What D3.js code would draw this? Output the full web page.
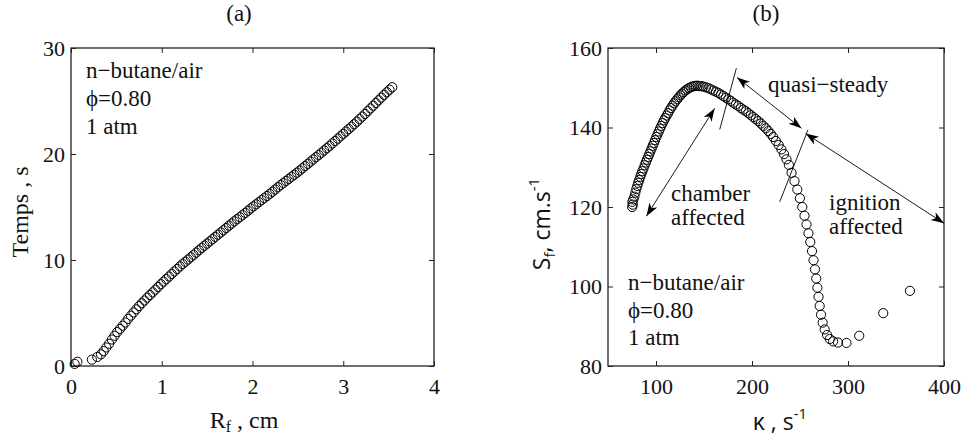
<!DOCTYPE html>
<html><head><meta charset="utf-8">
<script src="https://cdn.jsdelivr.net/npm/d3@7/dist/d3.min.js"></script>
<style>
html,body{margin:0;padding:0;background:#fff;}
svg{display:block;}
.serif{font-family:"Liberation Serif","Times New Roman",serif;}
.sans{font-family:"Open Sans","DejaVu Sans",sans-serif;}
</style></head>
<body>
<svg id="chart" width="963" height="439"></svg>
<script>
// ---------- Panel (a): flame radius vs time ----------
const radius = [0.04,0.07,0.23,0.29,
0.33,0.36,0.39,0.42,0.45,0.48,0.51,0.54,0.57,0.60,0.63,0.66,0.69,0.72,0.75,0.78,0.81,0.84,0.87,0.90,
0.93,0.96,0.99,1.02,1.05,1.08,1.11,1.14,1.17,1.20,1.23,1.26,1.29,1.32,1.35,1.38,1.41,1.44,1.47,1.50,
1.53,1.56,1.59,1.62,1.65,1.68,1.71,1.74,1.77,1.80,1.83,1.86,1.89,1.92,1.95,1.98,2.01,2.04,2.07,2.10,
2.13,2.16,2.19,2.22,2.25,2.28,2.31,2.34,2.37,2.40,2.43,2.46,2.49,2.52,2.55,2.58,2.61,2.64,2.67,2.70,
2.73,2.76,2.79,2.82,2.85,2.88,2.91,2.94,2.97,3.00,3.03,3.06,3.09,3.12,3.15,3.18,3.21,3.24,3.27,3.30,
3.33,3.36,3.39,3.42,3.45,3.48,3.51,3.54];
const time = [0.20,0.40,0.60,0.85,
1.10,1.40,1.75,2.10,2.50,2.85,3.20,3.50,3.80,4.10,4.45,4.75,5.05,5.35,5.65,5.92,6.18,6.45,6.70,6.95,
7.20,7.45,7.72,7.96,8.20,8.44,8.68,8.92,9.16,9.40,9.62,9.83,10.04,10.26,10.48,10.70,10.92,11.14,11.35,11.55,
11.76,11.97,12.18,12.39,12.60,12.81,13.02,13.23,13.44,13.65,13.85,14.04,14.24,14.44,14.65,14.86,15.06,15.25,15.45,15.65,
15.84,16.04,16.24,16.44,16.65,16.86,17.07,17.26,17.46,17.65,17.85,18.04,18.24,18.44,18.65,18.86,19.07,19.28,19.49,19.70,
19.91,20.12,20.33,20.55,20.77,21.00,21.22,21.45,21.67,21.90,22.12,22.35,22.58,22.81,23.05,23.29,23.53,23.78,24.04,24.30,
24.55,24.81,25.07,25.32,25.58,25.83,26.07,26.30];
const ticksA_x = [0,1,2,3,4];
const ticksA_y = [0,10,20,30];

// ---------- Panel (b): flame speed vs stretch ----------
const kappa = [75.2,75.8,75.4,76.4,77.5,78.5,79.5,80.5,81.5,82.5,83.6,84.7,85.8,87.0,88.2,89.4,90.6,91.8,93.0,94.2,
95.4,96.6,97.8,99.0,100.3,101.6,102.9,104.2,105.5,106.9,108.3,109.7,111.1,112.6,114.1,115.6,117.2,118.8,120.4,122.0,
123.7,125.4,127.1,128.8,130.6,132.4,134.2,136.0,137.8,139.7,141.6,143.5,145.4,147.4,
149.4,152.0,154.6,157.2,159.8,162.4,165.0,167.6,170.2,172.8,175.4,178.0,180.6,183.2,185.8,188.4,191.0,193.6,196.2,198.8,
201.4,204.0,206.6,209.2,211.8,214.4,217.0,219.5,222.0,224.9,227.8,230.6,233.3,235.9,238.4,
241.2,244.3,247.2,249.9,252.4,254.7,256.8,258.8,260.7,262.5,264.1,265.6,266.9,268.1,269.3,270.5,271.9,273.6,275.7,278.2,
281.0,284.5,289.6,298.4,311.7,336.7,364.5];
const speed = [120.0,120.6,121.3,121.9,122.6,123.6,124.5,125.3,126.1,126.8,127.6,128.3,129.0,129.7,130.5,131.2,131.9,132.6,133.3,134.0,
134.7,135.4,136.1,136.8,137.6,138.3,139.0,139.7,140.4,141.1,141.8,142.4,143.0,143.6,144.3,144.9,145.5,146.1,146.6,147.1,
147.6,148.1,148.5,148.9,149.3,149.6,149.9,150.1,150.3,150.4,150.5,150.5,150.4,150.4,
150.3,150.1,149.9,149.6,149.3,149.0,148.7,148.3,147.9,147.5,147.1,146.7,146.2,145.8,145.4,144.9,144.5,144.1,143.6,143.1,
142.6,142.1,141.6,141.0,140.4,139.8,139.1,138.4,137.6,136.6,135.6,134.5,133.3,132.0,130.6,
128.6,126.5,124.4,122.2,120.0,117.8,115.6,113.4,111.2,108.9,106.6,104.3,102.0,99.7,97.4,95.1,92.9,90.9,89.2,87.8,
86.8,86.2,85.9,85.8,87.6,93.3,98.9];
const ticksB_x = [100,200,300,400];
const ticksB_y = [80,100,120,140,160];

// annotation geometry in data units of panel (b)
const separators = [[[166.4,139.5],[183.7,154.9]], [[228.9,121.3],[258.3,139.4]]];
const doubleArrows = [[[184.4,152.6],[251.5,139.8]], [[255.9,138.5],[400,115.9]], [[161.1,144.8],[90,117.7]]];

const svg = d3.select("#chart");
svg.append("rect").attr("width",963).attr("height",439).attr("fill","#fff");

const defs = svg.append("defs");
defs.append("marker").attr("id","ah").attr("viewBox","-14 -6 15 12")
  .attr("refX",0).attr("refY",0).attr("markerWidth",15).attr("markerHeight",12)
  .attr("markerUnits","userSpaceOnUse").attr("orient","auto-start-reverse")
  .append("path").attr("d","M0,0 L-13,-4.6 L-9.5,0 L-13,4.6 Z").attr("fill","#000");

function panel(x, y, tx, ty) {
  const g = svg.append("g");
  const [x0,x1] = x.range(), [y0,y1] = y.range();
  const mk = (ax, labels, pad) => ax.tickSizeInner(-5).tickSizeOuter(0).tickPadding(pad)
      .tickFormat(labels ? d3.format("d") : "");
  g.append("g").attr("transform",`translate(0,${y0})`).call(mk(d3.axisBottom(x).tickValues(tx), true, 12));
  g.append("g").attr("transform",`translate(0,${y1})`).call(mk(d3.axisTop(x).tickValues(tx), false, 0));
  g.append("g").attr("transform",`translate(${x0},0)`).call(mk(d3.axisLeft(y).tickValues(ty), true, 6));
  g.append("g").attr("transform",`translate(${x1},0)`).call(mk(d3.axisRight(y).tickValues(ty), false, 0));
  g.selectAll(".domain").remove();
  g.selectAll(".tick line").attr("stroke","#222").attr("stroke-width",1);
  g.selectAll(".tick text").attr("class","serif").attr("font-size",22).attr("fill","#111");
  g.append("rect").attr("x",x0).attr("y",y1).attr("width",x1-x0).attr("height",y0-y1)
    .attr("fill","none").attr("stroke","#222").attr("stroke-width",1.3);
  return g;
}

// ---------- draw panel (a) ----------
const xA = d3.scaleLinear().domain([0,4]).range([71,434]);
const yA = d3.scaleLinear().domain([0,30]).range([366,48]);
panel(xA, yA, ticksA_x, ticksA_y);
svg.append("g").selectAll("circle").data(radius).join("circle")
  .attr("cx",(d)=>xA(d)).attr("cy",(d,i)=>yA(time[i])).attr("r",4.6)
  .attr("fill","none").attr("stroke","#000").attr("stroke-width",1);

// ---------- draw panel (b) ----------
const xB = d3.scaleLinear().domain([50,400]).range([608,944]);
const yB = d3.scaleLinear().domain([80,160]).range([366,48]);
panel(xB, yB, ticksB_x, ticksB_y);
svg.append("g").selectAll("circle").data(kappa).join("circle")
  .attr("cx",(d)=>xB(d)).attr("cy",(d,i)=>yB(speed[i])).attr("r",4.6)
  .attr("fill","none").attr("stroke","#000").attr("stroke-width",1);

const ann = svg.append("g").attr("stroke","#000").attr("stroke-width",0.9).attr("fill","none");
separators.forEach(s => ann.append("line")
  .attr("x1",xB(s[0][0])).attr("y1",yB(s[0][1])).attr("x2",xB(s[1][0])).attr("y2",yB(s[1][1])));
doubleArrows.forEach(s => ann.append("line")
  .attr("x1",xB(s[0][0])).attr("y1",yB(s[0][1])).attr("x2",xB(s[1][0])).attr("y2",yB(s[1][1]))
  .attr("marker-start","url(#ah)").attr("marker-end","url(#ah)"));

// ---------- texts ----------
function txt(x, y, s, size, cls, anchor) {
  return svg.append("text").attr("x",x).attr("y",y).attr("class",cls||"serif")
    .attr("font-size",size).attr("fill","#111").attr("text-anchor",anchor||"start").text(s);
}
txt(239, 21, "(a)", 23, "serif", "middle");
txt(766, 21, "(b)", 23, "serif", "middle");

["n\u2212butane/air","\u03d5=0.80","1 atm"].forEach((s,i)=>txt(86, 78+i*28, s, 23));
["n\u2212butane/air","\u03d5=0.80","1 atm"].forEach((s,i)=>txt(628, 290+i*27.5, s, 23));

txt(768, 92, "quasi\u2212steady", 23);
txt(671, 201, "chamber", 23);
txt(671, 225, "affected", 23);
txt(829, 210, "ignition", 23);
txt(829, 234, "affected", 23);

// axis labels
const rl = svg.append("text").attr("class","serif").attr("font-size",24).attr("fill","#111")
  .attr("x",244).attr("y",428).attr("text-anchor","middle");
rl.append("tspan").text("R");
rl.append("tspan").attr("font-size",16).attr("dy",4).text("f");
rl.append("tspan").attr("dy",-4).text(" , cm");

svg.append("text").attr("class","serif").attr("font-size",24).attr("fill","#111")
  .attr("text-anchor","middle").attr("transform","translate(28,212) rotate(-90)").text("Temps , s");

const kl = svg.append("text").attr("class","sans").attr("font-size",23).attr("fill","#111")
  .attr("x",780).attr("y",430).attr("text-anchor","middle");
kl.append("tspan").text("\u03ba , s");
kl.append("tspan").attr("font-size",15).attr("dy",-11).text("-1");

const sl = svg.append("text").attr("class","sans").attr("font-size",23).attr("fill","#111")
  .attr("text-anchor","middle").attr("transform","translate(550,224) rotate(-90)");
sl.append("tspan").text("S");
sl.append("tspan").attr("font-size",15).attr("dy",5).text("f");
sl.append("tspan").attr("dy",-5).text(", cm.s");
sl.append("tspan").attr("font-size",15).attr("dy",-11).text("-1");
</script>
</body></html>
